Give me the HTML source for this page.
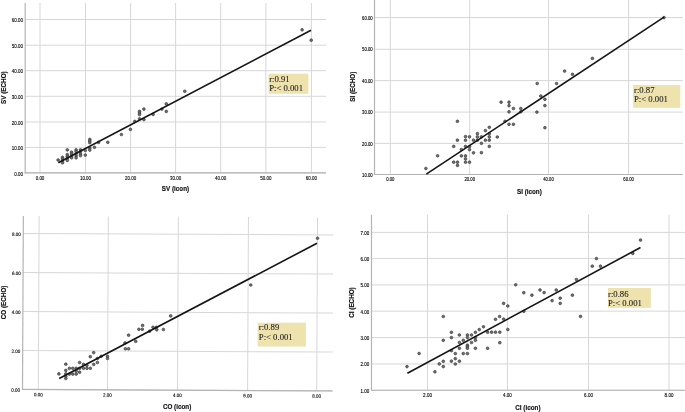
<!DOCTYPE html>
<html><head><meta charset="utf-8"><title>Scatter plots</title>
<style>
html,body{margin:0;padding:0;background:#fff;}
body{width:685px;height:412px;overflow:hidden;}
svg{display:block;}
.g{stroke:#d7d7d7;stroke-width:1;}
.a{stroke:#b4b4b4;stroke-width:1.2;}
.p{fill:#707070;stroke:#3c3c3c;stroke-width:0.7;}
.r{stroke:#141414;stroke-width:1.6;}
.t{font-family:"Liberation Sans",Arial,sans-serif;fill:#000;stroke:#000;stroke-width:0.12px;}
.ti{font-family:"Liberation Sans",Arial,sans-serif;font-size:6.3px;font-weight:bold;fill:#111;stroke:#111;stroke-width:0.15px;}
.b{font-family:"Liberation Serif","Times New Roman",serif;font-size:8.7px;fill:#222;stroke:#222;stroke-width:0.1px;}
</style></head>
<body>
<svg width="685" height="412" viewBox="0 0 685 412">
<rect width="685" height="412" fill="#fff"/>
<line x1="40" y1="3" x2="40" y2="172.9" class="g"/>
<line x1="85.5" y1="3" x2="85.5" y2="172.9" class="g"/>
<line x1="130.6" y1="3" x2="130.6" y2="172.9" class="g"/>
<line x1="175.6" y1="3" x2="175.6" y2="172.9" class="g"/>
<line x1="220.7" y1="3" x2="220.7" y2="172.9" class="g"/>
<line x1="265.9" y1="3" x2="265.9" y2="172.9" class="g"/>
<line x1="311.4" y1="3" x2="311.4" y2="172.9" class="g"/>
<line x1="25.2" y1="172.8" x2="326" y2="172.8" class="g"/>
<line x1="25.2" y1="147.4" x2="326" y2="147.4" class="g"/>
<line x1="25.2" y1="122" x2="326" y2="122" class="g"/>
<line x1="25.2" y1="96.3" x2="326" y2="96.3" class="g"/>
<line x1="25.2" y1="70.7" x2="326" y2="70.7" class="g"/>
<line x1="25.2" y1="45.2" x2="326" y2="45.2" class="g"/>
<line x1="25.2" y1="19.5" x2="326" y2="19.5" class="g"/>
<line x1="25.2" y1="3" x2="25.2" y2="173.4" class="a"/>
<line x1="24.7" y1="172.9" x2="326" y2="172.9" class="a"/>
<text transform="translate(40 179.66) scale(0.86 1)" class="t" font-size="5.2" text-anchor="middle">0.00</text>
<text transform="translate(85.5 179.66) scale(0.86 1)" class="t" font-size="5.2" text-anchor="middle">10.00</text>
<text transform="translate(130.6 179.66) scale(0.86 1)" class="t" font-size="5.2" text-anchor="middle">20.00</text>
<text transform="translate(175.6 179.66) scale(0.86 1)" class="t" font-size="5.2" text-anchor="middle">30.00</text>
<text transform="translate(220.7 179.66) scale(0.86 1)" class="t" font-size="5.2" text-anchor="middle">40.00</text>
<text transform="translate(265.9 179.66) scale(0.86 1)" class="t" font-size="5.2" text-anchor="middle">50.00</text>
<text transform="translate(311.4 179.66) scale(0.86 1)" class="t" font-size="5.2" text-anchor="middle">60.00</text>
<text transform="translate(23 175.56) scale(0.86 1)" class="t" font-size="5.2" text-anchor="end">0.00</text>
<text transform="translate(23 150.16) scale(0.86 1)" class="t" font-size="5.2" text-anchor="end">10.00</text>
<text transform="translate(23 124.76) scale(0.86 1)" class="t" font-size="5.2" text-anchor="end">20.00</text>
<text transform="translate(23 99.06) scale(0.86 1)" class="t" font-size="5.2" text-anchor="end">30.00</text>
<text transform="translate(23 73.46) scale(0.86 1)" class="t" font-size="5.2" text-anchor="end">40.00</text>
<text transform="translate(23 47.96) scale(0.86 1)" class="t" font-size="5.2" text-anchor="end">50.00</text>
<text transform="translate(23 22.26) scale(0.86 1)" class="t" font-size="5.2" text-anchor="end">60.00</text>
<text x="175.5" y="191.4" class="ti" text-anchor="middle">SV (icon)</text>
<text transform="translate(6.1 87.65) rotate(-90)" x="0" y="0" class="ti" text-anchor="middle">SV (ECHO)</text>
<circle cx="58.1" cy="160" r="1.35" class="p"/>
<circle cx="62.5" cy="157.3" r="1.35" class="p"/>
<circle cx="62.5" cy="159" r="1.35" class="p"/>
<circle cx="62.5" cy="161.1" r="1.35" class="p"/>
<circle cx="62.5" cy="162.8" r="1.35" class="p"/>
<circle cx="67.3" cy="149.9" r="1.35" class="p"/>
<circle cx="67.3" cy="154.6" r="1.35" class="p"/>
<circle cx="67.3" cy="156.3" r="1.35" class="p"/>
<circle cx="67.3" cy="158.3" r="1.35" class="p"/>
<circle cx="67.3" cy="160.4" r="1.35" class="p"/>
<circle cx="71.6" cy="152.2" r="1.35" class="p"/>
<circle cx="71.6" cy="153.9" r="1.35" class="p"/>
<circle cx="71.6" cy="156" r="1.35" class="p"/>
<circle cx="71.6" cy="157.8" r="1.35" class="p"/>
<circle cx="76.1" cy="149.9" r="1.35" class="p"/>
<circle cx="76.1" cy="151.5" r="1.35" class="p"/>
<circle cx="76.1" cy="153.6" r="1.35" class="p"/>
<circle cx="76.1" cy="155.8" r="1.35" class="p"/>
<circle cx="76.1" cy="157.8" r="1.35" class="p"/>
<circle cx="80.5" cy="149.9" r="1.35" class="p"/>
<circle cx="80.5" cy="151.5" r="1.35" class="p"/>
<circle cx="80.5" cy="153.9" r="1.35" class="p"/>
<circle cx="80.5" cy="155.6" r="1.35" class="p"/>
<circle cx="85.3" cy="150.5" r="1.35" class="p"/>
<circle cx="85.3" cy="155.1" r="1.35" class="p"/>
<circle cx="89.8" cy="139.4" r="1.35" class="p"/>
<circle cx="89.8" cy="141.1" r="1.35" class="p"/>
<circle cx="89.8" cy="142.7" r="1.35" class="p"/>
<circle cx="89.8" cy="148.1" r="1.35" class="p"/>
<circle cx="89.8" cy="150.1" r="1.35" class="p"/>
<circle cx="94.5" cy="147.3" r="1.35" class="p"/>
<circle cx="98.6" cy="142.4" r="1.35" class="p"/>
<circle cx="107.8" cy="142.3" r="1.35" class="p"/>
<circle cx="121.4" cy="134.5" r="1.35" class="p"/>
<circle cx="130.4" cy="129.4" r="1.35" class="p"/>
<circle cx="134.8" cy="121.4" r="1.35" class="p"/>
<circle cx="139.5" cy="111.4" r="1.35" class="p"/>
<circle cx="139.5" cy="113" r="1.35" class="p"/>
<circle cx="139.5" cy="114.6" r="1.35" class="p"/>
<circle cx="139.5" cy="118.9" r="1.35" class="p"/>
<circle cx="143.9" cy="109.1" r="1.35" class="p"/>
<circle cx="143.9" cy="119.6" r="1.35" class="p"/>
<circle cx="153.1" cy="114.4" r="1.35" class="p"/>
<circle cx="161.9" cy="109.1" r="1.35" class="p"/>
<circle cx="166.3" cy="103.9" r="1.35" class="p"/>
<circle cx="166.3" cy="111.4" r="1.35" class="p"/>
<circle cx="184.75" cy="91.25" r="1.35" class="p"/>
<circle cx="302.1" cy="29.8" r="1.35" class="p"/>
<circle cx="311.2" cy="40.2" r="1.35" class="p"/>
<line x1="58.3" y1="162.8" x2="311" y2="30.2" class="r"/>
<rect x="268.5" y="73.7" width="39.9" height="20.1" fill="#eee2ad"/>
<text x="269.2" y="81.7" class="b">r:0.91</text>
<text x="269.2" y="90.6" class="b">P:< 0.001</text>
<line x1="390.3" y1="0" x2="390.3" y2="174.5" class="g"/>
<line x1="469.7" y1="0" x2="469.7" y2="174.5" class="g"/>
<line x1="548.5" y1="0" x2="548.5" y2="174.5" class="g"/>
<line x1="628.6" y1="0" x2="628.6" y2="174.5" class="g"/>
<line x1="374.5" y1="174.5" x2="683" y2="174.5" class="g"/>
<line x1="374.5" y1="143.4" x2="683" y2="143.4" class="g"/>
<line x1="374.5" y1="112.1" x2="683" y2="112.1" class="g"/>
<line x1="374.5" y1="80.6" x2="683" y2="80.6" class="g"/>
<line x1="374.5" y1="49.3" x2="683" y2="49.3" class="g"/>
<line x1="374.5" y1="17.5" x2="683" y2="17.5" class="g"/>
<line x1="374.5" y1="0" x2="374.5" y2="175" class="a"/>
<line x1="374" y1="174.5" x2="683" y2="174.5" class="a"/>
<text transform="translate(390.3 181.45) scale(0.92 1)" class="t" font-size="4.6" text-anchor="middle">0.00</text>
<text transform="translate(469.7 181.45) scale(0.92 1)" class="t" font-size="4.6" text-anchor="middle">20.00</text>
<text transform="translate(548.5 181.45) scale(0.92 1)" class="t" font-size="4.6" text-anchor="middle">40.00</text>
<text transform="translate(628.6 181.45) scale(0.92 1)" class="t" font-size="4.6" text-anchor="middle">60.00</text>
<text transform="translate(372.6 176.65) scale(0.92 1)" class="t" font-size="4.6" text-anchor="end">10.00</text>
<text transform="translate(372.6 145.55) scale(0.92 1)" class="t" font-size="4.6" text-anchor="end">20.00</text>
<text transform="translate(372.6 114.25) scale(0.92 1)" class="t" font-size="4.6" text-anchor="end">30.00</text>
<text transform="translate(372.6 82.75) scale(0.92 1)" class="t" font-size="4.6" text-anchor="end">40.00</text>
<text transform="translate(372.6 51.45) scale(0.92 1)" class="t" font-size="4.6" text-anchor="end">50.00</text>
<text transform="translate(372.6 19.65) scale(0.92 1)" class="t" font-size="4.6" text-anchor="end">60.00</text>
<text x="529.4" y="193.7" class="ti" text-anchor="middle">SI (icon)</text>
<text transform="translate(355.3 86.7) rotate(-90)" x="0" y="0" class="ti" text-anchor="middle">SI (ECHO)</text>
<circle cx="425.9" cy="168.5" r="1.35" class="p"/>
<circle cx="437.6" cy="155.8" r="1.35" class="p"/>
<circle cx="453.7" cy="146.4" r="1.35" class="p"/>
<circle cx="453.7" cy="162.2" r="1.35" class="p"/>
<circle cx="457.4" cy="121.3" r="1.35" class="p"/>
<circle cx="457.4" cy="140.2" r="1.35" class="p"/>
<circle cx="457.5" cy="162.2" r="1.35" class="p"/>
<circle cx="457.5" cy="165.4" r="1.35" class="p"/>
<circle cx="461.4" cy="149.6" r="1.35" class="p"/>
<circle cx="461.4" cy="155.9" r="1.35" class="p"/>
<circle cx="465.5" cy="136.6" r="1.35" class="p"/>
<circle cx="465.5" cy="140.2" r="1.35" class="p"/>
<circle cx="465.5" cy="146.4" r="1.35" class="p"/>
<circle cx="465.5" cy="155.9" r="1.35" class="p"/>
<circle cx="465.5" cy="158.9" r="1.35" class="p"/>
<circle cx="465.5" cy="162.2" r="1.35" class="p"/>
<circle cx="469.5" cy="136.8" r="1.35" class="p"/>
<circle cx="469.5" cy="146.6" r="1.35" class="p"/>
<circle cx="469.5" cy="149.7" r="1.35" class="p"/>
<circle cx="469.5" cy="162.2" r="1.35" class="p"/>
<circle cx="473.5" cy="140.2" r="1.35" class="p"/>
<circle cx="473.5" cy="152.8" r="1.35" class="p"/>
<circle cx="477.4" cy="133.7" r="1.35" class="p"/>
<circle cx="477.4" cy="136.9" r="1.35" class="p"/>
<circle cx="477.4" cy="140.2" r="1.35" class="p"/>
<circle cx="481.4" cy="136.9" r="1.35" class="p"/>
<circle cx="481.4" cy="143.3" r="1.35" class="p"/>
<circle cx="481.4" cy="152.7" r="1.35" class="p"/>
<circle cx="485.4" cy="130.6" r="1.35" class="p"/>
<circle cx="485.4" cy="140.2" r="1.35" class="p"/>
<circle cx="489.3" cy="127.3" r="1.35" class="p"/>
<circle cx="489.3" cy="133.7" r="1.35" class="p"/>
<circle cx="489.3" cy="136.9" r="1.35" class="p"/>
<circle cx="489.3" cy="140.2" r="1.35" class="p"/>
<circle cx="489.3" cy="146.4" r="1.35" class="p"/>
<circle cx="497.3" cy="137" r="1.35" class="p"/>
<circle cx="505" cy="121.3" r="1.35" class="p"/>
<circle cx="501.1" cy="102.2" r="1.35" class="p"/>
<circle cx="509" cy="102.2" r="1.35" class="p"/>
<circle cx="509" cy="105.7" r="1.35" class="p"/>
<circle cx="509" cy="111.8" r="1.35" class="p"/>
<circle cx="509" cy="124.3" r="1.35" class="p"/>
<circle cx="513.4" cy="108.5" r="1.35" class="p"/>
<circle cx="513.4" cy="124.3" r="1.35" class="p"/>
<circle cx="520.8" cy="108.5" r="1.35" class="p"/>
<circle cx="520.8" cy="111.8" r="1.35" class="p"/>
<circle cx="536.9" cy="112.1" r="1.35" class="p"/>
<circle cx="537.2" cy="83.5" r="1.35" class="p"/>
<circle cx="540.8" cy="96" r="1.35" class="p"/>
<circle cx="544.9" cy="99.3" r="1.35" class="p"/>
<circle cx="544.9" cy="105.6" r="1.35" class="p"/>
<circle cx="544.9" cy="127.7" r="1.35" class="p"/>
<circle cx="556.6" cy="83.5" r="1.35" class="p"/>
<circle cx="564.6" cy="71.1" r="1.35" class="p"/>
<circle cx="572.5" cy="74.3" r="1.35" class="p"/>
<circle cx="592.4" cy="58.4" r="1.35" class="p"/>
<circle cx="664" cy="17.6" r="1.35" class="p"/>
<line x1="426.3" y1="174.2" x2="664" y2="17.1" class="r"/>
<rect x="633.1" y="85" width="47.2" height="22.8" fill="#eee2ad"/>
<text x="634" y="92.7" class="b">r:0.87</text>
<text x="634" y="101.8" class="b">P:< 0.001</text>
<g transform="rotate(0.28 22.5 389.4)">
<line x1="38.3" y1="216" x2="38.3" y2="389.4" class="g"/>
<line x1="107.5" y1="216" x2="107.5" y2="389.4" class="g"/>
<line x1="177.5" y1="216" x2="177.5" y2="389.4" class="g"/>
<line x1="247.6" y1="216" x2="247.6" y2="389.4" class="g"/>
<line x1="316.7" y1="216" x2="316.7" y2="389.4" class="g"/>
<line x1="22.5" y1="389.4" x2="332.5" y2="389.4" class="g"/>
<line x1="22.5" y1="350.6" x2="332.5" y2="350.6" class="g"/>
<line x1="22.5" y1="311.6" x2="332.5" y2="311.6" class="g"/>
<line x1="22.5" y1="272.5" x2="332.5" y2="272.5" class="g"/>
<line x1="22.5" y1="233.45" x2="332.5" y2="233.45" class="g"/>
<line x1="22.5" y1="216" x2="22.5" y2="389.9" class="a"/>
<line x1="22" y1="389.4" x2="332.5" y2="389.4" class="a"/>
<text transform="translate(38.3 396.29) scale(0.9 1)" class="t" font-size="5.0" text-anchor="middle">0.00</text>
<text transform="translate(107.5 396.29) scale(0.9 1)" class="t" font-size="5.0" text-anchor="middle">2.00</text>
<text transform="translate(177.5 396.29) scale(0.9 1)" class="t" font-size="5.0" text-anchor="middle">4.00</text>
<text transform="translate(247.6 396.29) scale(0.9 1)" class="t" font-size="5.0" text-anchor="middle">6.00</text>
<text transform="translate(316.7 396.29) scale(0.9 1)" class="t" font-size="5.0" text-anchor="middle">8.00</text>
<text transform="translate(20.1 391.89) scale(0.9 1)" class="t" font-size="5.0" text-anchor="end">0.00</text>
<text transform="translate(20.1 353.09) scale(0.9 1)" class="t" font-size="5.0" text-anchor="end">2.00</text>
<text transform="translate(20.1 314.09) scale(0.9 1)" class="t" font-size="5.0" text-anchor="end">4.00</text>
<text transform="translate(20.1 274.99) scale(0.9 1)" class="t" font-size="5.0" text-anchor="end">6.00</text>
<text transform="translate(20.1 235.94) scale(0.9 1)" class="t" font-size="5.0" text-anchor="end">8.00</text>
</g>
<text x="177.1" y="409" class="ti" text-anchor="middle">CO (icon)</text>
<text transform="translate(6.1 302.4) rotate(-90)" x="0" y="0" class="ti" text-anchor="middle">CO (ECHO)</text>
<circle cx="58.9" cy="373.9" r="1.35" class="p"/>
<circle cx="65.8" cy="364.2" r="1.35" class="p"/>
<circle cx="65.8" cy="370.4" r="1.35" class="p"/>
<circle cx="65.8" cy="373.9" r="1.35" class="p"/>
<circle cx="65.8" cy="376.3" r="1.35" class="p"/>
<circle cx="65.8" cy="378.5" r="1.35" class="p"/>
<circle cx="69.4" cy="368.3" r="1.35" class="p"/>
<circle cx="69.4" cy="374.1" r="1.35" class="p"/>
<circle cx="72.8" cy="368.3" r="1.35" class="p"/>
<circle cx="72.8" cy="374.1" r="1.35" class="p"/>
<circle cx="76.2" cy="368.3" r="1.35" class="p"/>
<circle cx="76.2" cy="371.2" r="1.35" class="p"/>
<circle cx="76.2" cy="374.1" r="1.35" class="p"/>
<circle cx="79.6" cy="362.5" r="1.35" class="p"/>
<circle cx="79.6" cy="368.3" r="1.35" class="p"/>
<circle cx="79.6" cy="372.2" r="1.35" class="p"/>
<circle cx="83.5" cy="364.4" r="1.35" class="p"/>
<circle cx="83.5" cy="368.3" r="1.35" class="p"/>
<circle cx="86.9" cy="365.4" r="1.35" class="p"/>
<circle cx="86.9" cy="368.3" r="1.35" class="p"/>
<circle cx="90.3" cy="356.7" r="1.35" class="p"/>
<circle cx="90.3" cy="368.3" r="1.35" class="p"/>
<circle cx="93.7" cy="352.6" r="1.35" class="p"/>
<circle cx="93.7" cy="364.4" r="1.35" class="p"/>
<circle cx="97.4" cy="358.5" r="1.35" class="p"/>
<circle cx="97.4" cy="362.5" r="1.35" class="p"/>
<circle cx="101.2" cy="356.3" r="1.35" class="p"/>
<circle cx="107.5" cy="356.3" r="1.35" class="p"/>
<circle cx="107.5" cy="358.5" r="1.35" class="p"/>
<circle cx="125" cy="343" r="1.35" class="p"/>
<circle cx="125.4" cy="348.8" r="1.35" class="p"/>
<circle cx="128.6" cy="348.8" r="1.35" class="p"/>
<circle cx="128.6" cy="335.2" r="1.35" class="p"/>
<circle cx="135.7" cy="341.3" r="1.35" class="p"/>
<circle cx="138.9" cy="329.3" r="1.35" class="p"/>
<circle cx="142.3" cy="329.3" r="1.35" class="p"/>
<circle cx="142.6" cy="325.4" r="1.35" class="p"/>
<circle cx="149.6" cy="331.2" r="1.35" class="p"/>
<circle cx="153" cy="327.3" r="1.35" class="p"/>
<circle cx="156.4" cy="327.3" r="1.35" class="p"/>
<circle cx="156.8" cy="329.8" r="1.35" class="p"/>
<circle cx="163.4" cy="329.5" r="1.35" class="p"/>
<circle cx="170.7" cy="315.9" r="1.35" class="p"/>
<circle cx="250.75" cy="285" r="1.35" class="p"/>
<circle cx="317.5" cy="238.25" r="1.35" class="p"/>
<line x1="59.2" y1="378.5" x2="317" y2="243.25" class="r"/>
<rect x="257.7" y="322.7" width="48.2" height="23.8" fill="#eee2ad"/>
<text x="258.8" y="329.9" class="b">r:0.89</text>
<text x="258.8" y="339.5" class="b">P:< 0.001</text>
<line x1="427.5" y1="214.75" x2="427.5" y2="390.25" class="g"/>
<line x1="507.4" y1="214.75" x2="507.4" y2="390.25" class="g"/>
<line x1="588.5" y1="214.75" x2="588.5" y2="390.25" class="g"/>
<line x1="669" y1="214.75" x2="669" y2="390.25" class="g"/>
<line x1="371.5" y1="390.3" x2="685" y2="390.3" class="g"/>
<line x1="371.5" y1="363.95" x2="685" y2="363.95" class="g"/>
<line x1="371.5" y1="337.6" x2="685" y2="337.6" class="g"/>
<line x1="371.5" y1="311.15" x2="685" y2="311.15" class="g"/>
<line x1="371.5" y1="284.9" x2="685" y2="284.9" class="g"/>
<line x1="371.5" y1="258.45" x2="685" y2="258.45" class="g"/>
<line x1="371.5" y1="232.4" x2="685" y2="232.4" class="g"/>
<line x1="371.5" y1="214.75" x2="371.5" y2="390.75" class="a"/>
<line x1="371" y1="390.25" x2="685" y2="390.25" class="a"/>
<text transform="translate(427.5 396.68) scale(0.96 1)" class="t" font-size="4.7" text-anchor="middle">2.00</text>
<text transform="translate(507.4 396.68) scale(0.96 1)" class="t" font-size="4.7" text-anchor="middle">4.00</text>
<text transform="translate(588.5 396.68) scale(0.96 1)" class="t" font-size="4.7" text-anchor="middle">6.00</text>
<text transform="translate(669 396.68) scale(0.96 1)" class="t" font-size="4.7" text-anchor="middle">8.00</text>
<text transform="translate(369.2 392.68) scale(0.96 1)" class="t" font-size="4.7" text-anchor="end">1.00</text>
<text transform="translate(369.2 366.33) scale(0.96 1)" class="t" font-size="4.7" text-anchor="end">2.00</text>
<text transform="translate(369.2 339.98) scale(0.96 1)" class="t" font-size="4.7" text-anchor="end">3.00</text>
<text transform="translate(369.2 313.53) scale(0.96 1)" class="t" font-size="4.7" text-anchor="end">4.00</text>
<text transform="translate(369.2 287.28) scale(0.96 1)" class="t" font-size="4.7" text-anchor="end">5.00</text>
<text transform="translate(369.2 260.83) scale(0.96 1)" class="t" font-size="4.7" text-anchor="end">6.00</text>
<text transform="translate(369.2 234.78) scale(0.96 1)" class="t" font-size="4.7" text-anchor="end">7.00</text>
<text x="527.9" y="409.6" class="ti" text-anchor="middle">CI (icon)</text>
<text transform="translate(354.4 302.5) rotate(-90)" x="0" y="0" class="ti" text-anchor="middle">CI (ECHO)</text>
<circle cx="407" cy="366.6" r="1.35" class="p"/>
<circle cx="419.1" cy="353.5" r="1.35" class="p"/>
<circle cx="434.9" cy="371.8" r="1.35" class="p"/>
<circle cx="439.3" cy="363.9" r="1.35" class="p"/>
<circle cx="443.3" cy="316.5" r="1.35" class="p"/>
<circle cx="443.3" cy="340.3" r="1.35" class="p"/>
<circle cx="443.3" cy="361.3" r="1.35" class="p"/>
<circle cx="443.3" cy="366.6" r="1.35" class="p"/>
<circle cx="451.4" cy="332.3" r="1.35" class="p"/>
<circle cx="451.4" cy="337.6" r="1.35" class="p"/>
<circle cx="451.4" cy="350.7" r="1.35" class="p"/>
<circle cx="451.4" cy="361.2" r="1.35" class="p"/>
<circle cx="455.3" cy="353.6" r="1.35" class="p"/>
<circle cx="455.3" cy="358.7" r="1.35" class="p"/>
<circle cx="455.3" cy="364" r="1.35" class="p"/>
<circle cx="459.4" cy="335" r="1.35" class="p"/>
<circle cx="459.4" cy="342.5" r="1.35" class="p"/>
<circle cx="459.4" cy="348.3" r="1.35" class="p"/>
<circle cx="459.4" cy="361.2" r="1.35" class="p"/>
<circle cx="463.3" cy="340.3" r="1.35" class="p"/>
<circle cx="463.3" cy="353.6" r="1.35" class="p"/>
<circle cx="467.4" cy="335" r="1.35" class="p"/>
<circle cx="467.4" cy="337.6" r="1.35" class="p"/>
<circle cx="467.4" cy="345.2" r="1.35" class="p"/>
<circle cx="467.4" cy="346.8" r="1.35" class="p"/>
<circle cx="467.4" cy="348.3" r="1.35" class="p"/>
<circle cx="467.4" cy="353.6" r="1.35" class="p"/>
<circle cx="471.5" cy="335" r="1.35" class="p"/>
<circle cx="471.5" cy="342.5" r="1.35" class="p"/>
<circle cx="475.4" cy="332.3" r="1.35" class="p"/>
<circle cx="475.4" cy="337.6" r="1.35" class="p"/>
<circle cx="475.4" cy="340.3" r="1.35" class="p"/>
<circle cx="475.4" cy="348.3" r="1.35" class="p"/>
<circle cx="479.3" cy="329.6" r="1.35" class="p"/>
<circle cx="483.5" cy="326.8" r="1.35" class="p"/>
<circle cx="487.6" cy="332.2" r="1.35" class="p"/>
<circle cx="487.6" cy="348.3" r="1.35" class="p"/>
<circle cx="491.6" cy="332.2" r="1.35" class="p"/>
<circle cx="495.5" cy="332.2" r="1.35" class="p"/>
<circle cx="499.8" cy="332.2" r="1.35" class="p"/>
<circle cx="495.5" cy="319.3" r="1.35" class="p"/>
<circle cx="499.6" cy="316.5" r="1.35" class="p"/>
<circle cx="503.6" cy="319.1" r="1.35" class="p"/>
<circle cx="499.8" cy="342.7" r="1.35" class="p"/>
<circle cx="503.6" cy="303.4" r="1.35" class="p"/>
<circle cx="507.8" cy="306" r="1.35" class="p"/>
<circle cx="507.8" cy="329.5" r="1.35" class="p"/>
<circle cx="515.7" cy="284.8" r="1.35" class="p"/>
<circle cx="523.8" cy="292.7" r="1.35" class="p"/>
<circle cx="531.9" cy="295.2" r="1.35" class="p"/>
<circle cx="540" cy="290" r="1.35" class="p"/>
<circle cx="544.1" cy="292.6" r="1.35" class="p"/>
<circle cx="552.1" cy="300.6" r="1.35" class="p"/>
<circle cx="556.2" cy="290" r="1.35" class="p"/>
<circle cx="560.2" cy="298.2" r="1.35" class="p"/>
<circle cx="560.2" cy="303.4" r="1.35" class="p"/>
<circle cx="572.4" cy="295.2" r="1.35" class="p"/>
<circle cx="576.4" cy="279.5" r="1.35" class="p"/>
<circle cx="580.5" cy="316.4" r="1.35" class="p"/>
<circle cx="523.8" cy="311.3" r="1.35" class="p"/>
<circle cx="592.3" cy="266.2" r="1.35" class="p"/>
<circle cx="596.4" cy="258.6" r="1.35" class="p"/>
<circle cx="600.5" cy="266.2" r="1.35" class="p"/>
<circle cx="632.8" cy="253.4" r="1.35" class="p"/>
<circle cx="640.5" cy="240.1" r="1.35" class="p"/>
<line x1="407.4" y1="373.2" x2="640.5" y2="247.5" class="r"/>
<rect x="607.9" y="288" width="42.9" height="19.8" fill="#eee2ad"/>
<text x="608" y="296.6" class="b">r:0.86</text>
<text x="608" y="306.3" class="b">P:< 0.001</text>
</svg>
</body></html>
